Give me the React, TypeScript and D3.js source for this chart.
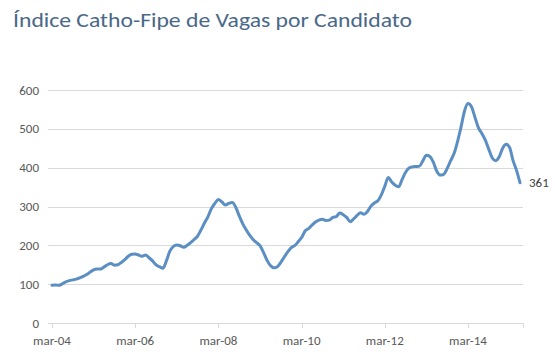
import React from "react";
import * as d3 from "d3";

// Monthly index, Mar-2004 .. Jun-2015
const values: number[] = [
  97, 98, 97, 101, 106, 109, 111, 113, 116, 120, 125, 131,
  137, 139, 139, 144, 150, 153, 149, 150, 156, 163, 172, 177,
  178, 175, 172, 175, 168, 160, 150, 145, 141, 160, 185, 197,
  201, 199, 195, 200, 207, 215, 224, 240, 258, 274, 295, 308,
  318, 312, 304, 308, 310, 298, 276, 256, 240, 226, 215, 207,
  199, 182, 162, 148, 142, 145, 156, 170, 183, 194, 199, 209,
  220, 237, 243, 252, 260, 265, 267, 264, 265, 272, 274, 283,
  279, 272, 261, 268, 277, 284, 280, 287, 301, 309, 315, 330,
  352, 375, 363, 355, 351, 370, 388, 399, 402, 403, 404, 418,
  432, 429, 414, 391, 381, 383, 398, 418, 437, 468, 505, 546,
  565, 557, 530, 503, 488, 471, 447, 425, 418, 428, 450, 460,
  452, 418, 393, 361,
];
const yTicks: number[] = [0, 100, 200, 300, 400, 500, 600];
const xTickIndices: number[] = [0, 24, 48, 72, 96, 120];
const xTickLabels: string[] = ["mar-04", "mar-06", "mar-08", "mar-10", "mar-12", "mar-14"];
const title = "Índice Catho-Fipe de Vagas por Candidato";

export default function App() {
  const W = 555;
  const H = 356;
  const x = d3.scaleLinear().domain([0, 120]).range([52, 468]);
  const y = d3.scaleLinear().domain([0, 600]).range([323, 90]);
  const gridLeft = 48;
  const gridRight = 523;
  const line = d3
    .line<number>()
    .x((_, i) => x(i))
    .y((d) => y(d))
    .curve(d3.curveMonotoneX);
  const lastIdx = values.length - 1;
  const lastVal = values[lastIdx];
  const font = "Calibri, Carlito, Lato, 'Open Sans', sans-serif";

  return (
    <svg
      width={W}
      height={H}
      style={{ position: "absolute", left: 0, top: 0, background: "#fff" }}
      fontFamily={font}
    >
      <rect x={0} y={0} width={W} height={H} fill="#fff" />
      <text
        x={13}
        y={27}
        fontSize={20}
        fill="#4a6888"
        textLength={399}
        lengthAdjust="spacingAndGlyphs"
      >
        {title}
      </text>
      {yTicks.map((t) => (
        <g key={t}>
          <line
            x1={gridLeft}
            x2={gridRight}
            y1={Math.round(y(t)) + 0.5}
            y2={Math.round(y(t)) + 0.5}
            stroke="#d9d9d9"
            strokeWidth={1}
          />
          <text
            x={39}
            y={y(t) + 4.5}
            fontSize={13}
            fill="#595959"
            textAnchor="end"
          >
            {t}
          </text>
        </g>
      ))}
      {xTickIndices.map((ti, k) => (
        <g key={ti}>
          <line
            x1={Math.round(x(ti)) + 0.5}
            x2={Math.round(x(ti)) + 0.5}
            y1={323}
            y2={328}
            stroke="#d9d9d9"
          />
          <text
            x={x(ti)}
            y={345}
            fontSize={13}
            fill="#595959"
            textAnchor="middle"
          >
            {xTickLabels[k]}
          </text>
        </g>
      ))}
      <line x1={gridRight + 0.5} x2={gridRight + 0.5} y1={323} y2={328} stroke="#d9d9d9" />
      <path
        d={line(values) || ""}
        fill="none"
        stroke="#5b8ec2"
        strokeWidth={3}
        strokeLinejoin="round"
        strokeLinecap="round"
      />
      <text x={529} y={y(lastVal) + 4.5} fontSize={13} fill="#404040">
        {lastVal}
      </text>
    </svg>
  );
}
